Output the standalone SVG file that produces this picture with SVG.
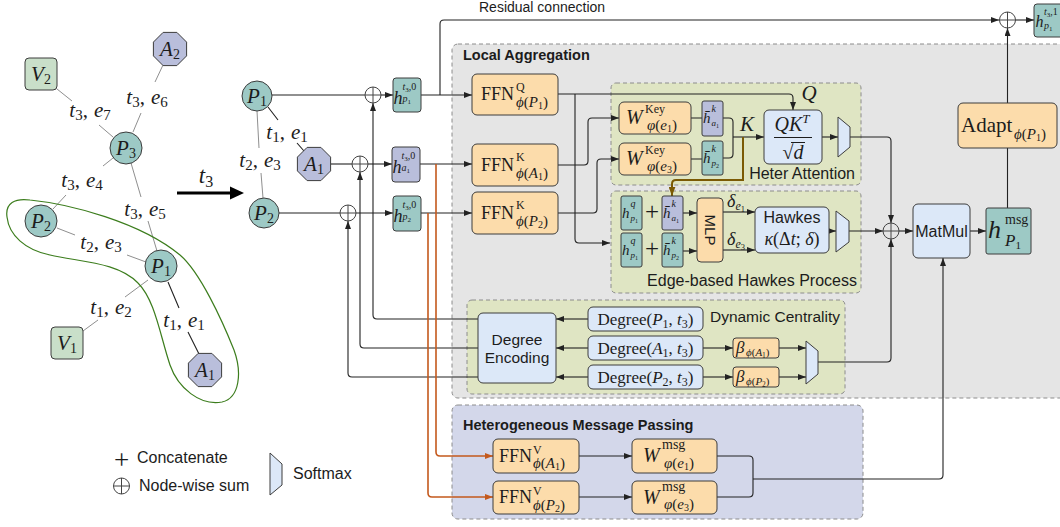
<svg xmlns="http://www.w3.org/2000/svg" width="1060" height="527" viewBox="0 0 1060 527">
<defs>
<style>
.m{font-family:"Liberation Serif","Times New Roman",serif;fill:#1c1c1c}
.i{font-style:italic}
.s{font-family:"Liberation Sans",Arial,sans-serif;fill:#1c1c1c}
.b{font-weight:bold}
.ln{fill:none;stroke:#222;stroke-width:1.1}
.la{fill:none;stroke:#222;stroke-width:1.1;marker-end:url(#ah)}
.gr{fill:none;stroke:#8f8f8f;stroke-width:1}
.or{fill:none;stroke:#c4591d;stroke-width:1.6;marker-end:url(#aho)}
.br{fill:none;stroke:#7b5a04;stroke-width:2;marker-end:url(#ahb)}
.box{stroke:#3c3c3c;stroke-width:1}
.teal{fill:#9dc9c5}
.lav{fill:#b9bedb}
.ora{fill:#fcdcab}
.blu{fill:#dce8f8}
.vgr{fill:#c9dfc9}
.pnl{stroke:#8c8c8c;stroke-width:1;stroke-dasharray:4 3}
.sm{fill:#dce8f8;stroke:#3c3c3c;stroke-width:1}
</style>
<marker id="ah" viewBox="0 0 8 6" refX="8" refY="3" markerWidth="8" markerHeight="6" markerUnits="userSpaceOnUse" orient="auto"><path d="M0,0L8,3L0,6z" fill="#222"/></marker>
<marker id="aho" viewBox="0 0 8 6" refX="8" refY="3" markerWidth="8" markerHeight="6" markerUnits="userSpaceOnUse" orient="auto"><path d="M0,0L8,3L0,6z" fill="#c4591d"/></marker>
<marker id="ahb" viewBox="0 0 8 6" refX="8" refY="3" markerWidth="9" markerHeight="7" markerUnits="userSpaceOnUse" orient="auto"><path d="M0,0L8,3L0,6z" fill="#7b5a04"/></marker>
<g id="sum"><circle r="8" fill="none" stroke="#444" stroke-width="1"/><path d="M-8,0H8M0,-8V8" stroke="#444" stroke-width="1"/></g>
<polygon id="oct" points="-6.9,-16.6 6.9,-16.6 16.6,-6.9 16.6,6.9 6.9,16.6 -6.9,16.6 -16.6,6.9 -16.6,-6.9"/>
</defs>

<rect width="1060" height="527" fill="#fff"/>

<!-- ===== temporal graph (left) ===== -->
<g id="graph-edges">
  <path class="gr" d="M57,89L72,101M99,125L113,137"/>
  <path class="gr" d="M163,65L155,82M141,113L133,132"/>
  <path class="gr" d="M113,158L103,166M66,195L53,209"/>
  <path class="gr" d="M131,163L141,197M148,221L157,251"/>
  <path class="gr" d="M57,228L75,235M127,255L146,262"/>
  <path class="gr" d="M83,331L98,320M125,297L148,280"/>
  <path class="ln" d="M168,282L179,308M188,332L199,354"/>
</g>
<path id="subgraph" d="M7,217C5,203 15,198 30,200C70,204 140,222 180,255C200,272 222,320 234,350C242,372 240,398 222,402C200,406 178,388 170,365C160,335 155,300 138,283C118,262 80,262 50,255C25,250 9,235 7,217Z" fill="none" stroke="#3c7d1d" stroke-width="1.2"/>

<g id="g-V2"><rect class="vgr box" x="25" y="58" width="32" height="32" rx="4"/><text class="m i" x="41" y="81" text-anchor="middle" font-size="21">V<tspan font-style="normal" font-size="14" dy="3">2</tspan></text></g>
<g id="g-A2"><use href="#oct" class="lav box" x="170" y="49"/><text class="m i" x="170" y="56" text-anchor="middle" font-size="21">A<tspan font-style="normal" font-size="14" dy="3">2</tspan></text></g>
<g id="g-P3"><circle class="teal box" cx="126" cy="148" r="16"/><text class="m i" x="126" y="155" text-anchor="middle" font-size="21">P<tspan font-style="normal" font-size="14" dy="3">3</tspan></text></g>
<g id="g-P2"><circle class="teal box" cx="41" cy="221" r="16"/><text class="m i" x="41" y="228" text-anchor="middle" font-size="21">P<tspan font-style="normal" font-size="14" dy="3">2</tspan></text></g>
<g id="g-P1"><circle class="teal box" cx="161" cy="266" r="16"/><text class="m i" x="161" y="273" text-anchor="middle" font-size="21">P<tspan font-style="normal" font-size="14" dy="3">1</tspan></text></g>
<g id="g-V1"><rect class="vgr box" x="51" y="327" width="32" height="32" rx="4"/><text class="m i" x="67" y="350" text-anchor="middle" font-size="21">V<tspan font-style="normal" font-size="14" dy="3">1</tspan></text></g>
<g id="g-A1"><use href="#oct" class="lav box" x="205" y="370"/><text class="m i" x="205" y="377" text-anchor="middle" font-size="21">A<tspan font-style="normal" font-size="14" dy="3">1</tspan></text></g>

<g id="edge-labels" class="m" font-size="21" text-anchor="middle">
  <text x="90" y="117"><tspan class="i">t</tspan><tspan font-size="15" dy="3">3</tspan><tspan dy="-3">,</tspan><tspan class="i" dx="6">e</tspan><tspan font-size="15" dy="3">7</tspan></text>
  <text x="147" y="104"><tspan class="i">t</tspan><tspan font-size="15" dy="3">3</tspan><tspan dy="-3">,</tspan><tspan class="i" dx="6">e</tspan><tspan font-size="15" dy="3">6</tspan></text>
  <text x="82" y="187"><tspan class="i">t</tspan><tspan font-size="15" dy="3">3</tspan><tspan dy="-3">,</tspan><tspan class="i" dx="6">e</tspan><tspan font-size="15" dy="3">4</tspan></text>
  <text x="145" y="216"><tspan class="i">t</tspan><tspan font-size="15" dy="3">3</tspan><tspan dy="-3">,</tspan><tspan class="i" dx="6">e</tspan><tspan font-size="15" dy="3">5</tspan></text>
  <text x="101" y="249"><tspan class="i">t</tspan><tspan font-size="15" dy="3">2</tspan><tspan dy="-3">,</tspan><tspan class="i" dx="6">e</tspan><tspan font-size="15" dy="3">3</tspan></text>
  <text x="111" y="314"><tspan class="i">t</tspan><tspan font-size="15" dy="3">1</tspan><tspan dy="-3">,</tspan><tspan class="i" dx="6">e</tspan><tspan font-size="15" dy="3">2</tspan></text>
  <text x="184" y="327"><tspan class="i">t</tspan><tspan font-size="15" dy="3">1</tspan><tspan dy="-3">,</tspan><tspan class="i" dx="6">e</tspan><tspan font-size="15" dy="3">1</tspan></text>
</g>

<!-- time step arrow -->
<g id="step-arrow">
  <path d="M177,193H232" stroke="#000" stroke-width="3"/>
  <polygon points="230,186.5 244,193 230,199.5" fill="#000"/>
  <text class="m i" x="206" y="183" text-anchor="middle" font-size="23">t<tspan font-style="normal" font-size="16" dy="4">3</tspan></text>
</g>

<!-- ===== sampled subgraph at t3 ===== -->
<g id="sub-edges">
  <path class="gr" d="M257,111L259,148M261,173L263,198"/>
  <path class="ln" d="M268,107L278,120M297,143L304,151"/>
</g>
<g id="s-P1"><circle class="teal box" cx="257" cy="96" r="15"/><text class="m i" x="257" y="103" text-anchor="middle" font-size="21">P<tspan font-style="normal" font-size="14" dy="3">1</tspan></text></g>
<g id="s-A1"><use href="#oct" class="lav box" x="314" y="164"/><text class="m i" x="314" y="171" text-anchor="middle" font-size="21">A<tspan font-style="normal" font-size="14" dy="3">1</tspan></text></g>
<g id="s-P2"><circle class="teal box" cx="264" cy="213" r="15"/><text class="m i" x="264" y="220" text-anchor="middle" font-size="21">P<tspan font-style="normal" font-size="14" dy="3">2</tspan></text></g>
<g class="m" font-size="21" text-anchor="middle">
  <text x="287" y="139"><tspan class="i">t</tspan><tspan font-size="15" dy="3">1</tspan><tspan dy="-3">,</tspan><tspan class="i" dx="6">e</tspan><tspan font-size="15" dy="3">1</tspan></text>
  <text x="260" y="167"><tspan class="i">t</tspan><tspan font-size="15" dy="3">2</tspan><tspan dy="-3">,</tspan><tspan class="i" dx="6">e</tspan><tspan font-size="15" dy="3">3</tspan></text>
</g>

<!-- ===== panels ===== -->
<g id="panel-local">
  <rect class="pnl" x="452" y="44" width="620" height="354" rx="6" fill="#e5e5e5"/>
  <text class="s b" x="463" y="60" font-size="14.5">Local Aggregation</text>
</g>
<g id="panel-attention">
  <rect class="pnl" x="611" y="83" width="250" height="102" rx="5" fill="#dfe5c3"/>
  <text class="s" x="855" y="179" text-anchor="end" font-size="16">Heter Attention</text>
</g>
<g id="panel-hawkes">
  <rect class="pnl" x="611" y="191" width="250" height="102" rx="5" fill="#dfe5c3"/>
  <text class="s" x="857" y="286" text-anchor="end" font-size="16">Edge-based Hawkes Process</text>
</g>
<g id="panel-centrality">
  <rect class="pnl" x="467" y="300" width="378" height="94" rx="5" fill="#dfe5c3"/>
  <text class="s" x="840" y="322" text-anchor="end" font-size="15.5">Dynamic Centrality</text>
</g>
<g id="panel-message">
  <rect class="pnl" x="452" y="405" width="411" height="114" rx="6" fill="#d3d7ea"/>
  <text class="s b" x="463" y="430" font-size="14.5">Heterogeneous Message Passing</text>
</g>

<!-- ===== connectors ===== -->
<g id="connectors">
  <path class="ln" d="M272,95H365"/>
  <path class="la" d="M381,95H393"/>
  <path class="ln" d="M331,164H352"/>
  <path class="la" d="M368,164H392"/>
  <path class="ln" d="M279,213H340"/>
  <path class="la" d="M356,213H393"/>
  <path class="la" d="M421,95H472"/>
  <path class="la" d="M420,164H472"/>
  <path class="la" d="M421,213H472"/>
  <!-- residual -->
  <path class="la" d="M440,95V24Q440,20 444,20H999"/>
  <path class="la" d="M1015.5,20H1034"/>
  <path class="la" d="M1007.5,103V28"/>
  <path class="ln" d="M1007.5,208V148"/>
  <!-- degree feedback -->
  <path class="la" d="M478,319H377Q373,319 373,315V103"/>
  <path class="la" d="M478,348H364Q360,348 360,344V172"/>
  <path class="la" d="M478,377H352Q348,377 348,373V221"/>
  <!-- value paths -->
  <path class="or" d="M436,164V452Q436,456 440,456H493"/>
  <path class="or" d="M428,213V493Q428,497 432,497H493"/>
  <!-- query / key -->
  <path class="la" d="M558,94H789Q793,94 793,98V110"/>
  <path class="la" d="M575,94V239Q575,243 579,243H610"/>
  <path class="la" d="M558,165H584Q588,165 588,161V122Q588,118 592,118H619"/>
  <path class="la" d="M558,213H593Q597,213 597,209V163Q597,159 601,159H619"/>
  <path class="ln" d="M691,118H702M691,159H702"/>
  <path class="ln" d="M723,118H729Q733,118 733,122V154Q733,158 729,158H723"/>
  <path class="la" d="M733,137H764"/>
  <path class="br" d="M743,137V180H676Q672,180 672,184V196"/>
  <path class="la" d="M822,137H838"/>
  <path class="la" d="M850,137H887Q891,137 891,141V223"/>
  <!-- hawkes -->
  <path class="la" d="M683,213H697"/>
  <path class="la" d="M683,251H697"/>
  <path class="la" d="M723,212H755"/>
  <path class="la" d="M723,250H755"/>
  <path class="la" d="M829,231H836"/>
  <path class="la" d="M849,231H883"/>
  <path class="la" d="M899,231H913"/>
  <path class="la" d="M970,231H986"/>
  <!-- centrality -->
  <path class="la" d="M588,319H556"/>
  <path class="la" d="M588,348H556"/>
  <path class="la" d="M588,377H556"/>
  <path class="la" d="M703,348H733"/>
  <path class="la" d="M703,377H733"/>
  <path class="la" d="M779,348H806"/>
  <path class="la" d="M779,377H806"/>
  <path class="la" d="M818,362H887Q891,362 891,358V239"/>
  <!-- message passing -->
  <path class="la" d="M579,456H632"/>
  <path class="la" d="M579,497H632"/>
  <path class="ln" d="M717,456H749Q753,456 753,460V493Q753,497 749,497H717"/>
  <path class="la" d="M753,479H939Q943,479 943,475V258"/>
</g>

<!-- sums -->
<g id="sums">
  <use href="#sum" x="373" y="95"/>
  <use href="#sum" x="360" y="164"/>
  <use href="#sum" x="348" y="213"/>
  <use href="#sum" x="891" y="231"/>
  <use href="#sum" x="1007.5" y="20"/>
</g>

<!-- initial embeddings -->
<g id="h-p1"><rect class="teal box" x="393" y="78" width="28" height="34" rx="3"/>
  <text class="m"><tspan class="i" x="393.5" y="104" font-size="18">h</tspan><tspan x="402.5" y="90" font-size="10"><tspan class="i">t</tspan><tspan font-size="7" dy="1.5">3</tspan><tspan dy="-1.5">,0</tspan></tspan><tspan x="402.5" y="102" font-size="10"><tspan class="i">p</tspan><tspan font-size="7" dy="1.5">1</tspan></tspan></text></g>
<g id="h-a1"><rect class="lav box" x="392" y="147" width="28" height="35" rx="3"/>
  <text class="m"><tspan class="i" x="392.5" y="173" font-size="18">h</tspan><tspan x="401.5" y="159" font-size="10"><tspan class="i">t</tspan><tspan font-size="7" dy="1.5">3</tspan><tspan dy="-1.5">,0</tspan></tspan><tspan x="401.5" y="171" font-size="10"><tspan class="i">a</tspan><tspan font-size="7" dy="1.5">1</tspan></tspan></text></g>
<g id="h-p2"><rect class="teal box" x="393" y="196" width="28" height="35" rx="3"/>
  <text class="m"><tspan class="i" x="393.5" y="222" font-size="18">h</tspan><tspan x="402.5" y="208" font-size="10"><tspan class="i">t</tspan><tspan font-size="7" dy="1.5">3</tspan><tspan dy="-1.5">,0</tspan></tspan><tspan x="402.5" y="220" font-size="10"><tspan class="i">p</tspan><tspan font-size="7" dy="1.5">2</tspan></tspan></text></g>

<!-- FFN projections -->
<g id="ffn-q"><rect class="ora box" x="472" y="74" width="86" height="41" rx="5"/>
  <text class="m"><tspan x="481" y="100" font-size="18">FFN</tspan><tspan x="516" y="90.5" font-size="12">Q</tspan><tspan x="516" y="107" font-size="15"><tspan class="i">ϕ</tspan>(<tspan class="i">P</tspan><tspan font-size="10" dy="2">1</tspan><tspan dy="-2">)</tspan></tspan></text></g>
<g id="ffn-k-a1"><rect class="ora box" x="472" y="144" width="86" height="42" rx="5"/>
  <text class="m"><tspan x="481" y="170.5" font-size="18">FFN</tspan><tspan x="516" y="161" font-size="12">K</tspan><tspan x="516" y="177.5" font-size="15"><tspan class="i">ϕ</tspan>(<tspan class="i">A</tspan><tspan font-size="10" dy="2">1</tspan><tspan dy="-2">)</tspan></tspan></text></g>
<g id="ffn-k-p2"><rect class="ora box" x="472" y="192" width="86" height="42" rx="5"/>
  <text class="m"><tspan x="481" y="218.5" font-size="18">FFN</tspan><tspan x="516" y="209" font-size="12">K</tspan><tspan x="516" y="225.5" font-size="15"><tspan class="i">ϕ</tspan>(<tspan class="i">P</tspan><tspan font-size="10" dy="2">2</tspan><tspan dy="-2">)</tspan></tspan></text></g>

<!-- heter attention -->
<g id="wkey-e1"><rect class="ora box" x="619" y="102" width="72" height="32" rx="5"/>
  <text class="m"><tspan class="i" x="626" y="124" font-size="20">W</tspan><tspan x="645" y="113" font-size="12">Key</tspan><tspan x="647" y="129.5" font-size="15"><tspan class="i">φ</tspan>(<tspan class="i">e</tspan><tspan font-size="10" dy="2">1</tspan><tspan dy="-2">)</tspan></tspan></text></g>
<g id="wkey-e3"><rect class="ora box" x="619" y="143" width="72" height="32" rx="5"/>
  <text class="m"><tspan class="i" x="626" y="165" font-size="20">W</tspan><tspan x="645" y="154" font-size="12">Key</tspan><tspan x="647" y="170.5" font-size="15"><tspan class="i">φ</tspan>(<tspan class="i">e</tspan><tspan font-size="10" dy="2">3</tspan><tspan dy="-2">)</tspan></tspan></text></g>
<g id="hk-a1"><rect class="lav box" x="702" y="101" width="21" height="35" rx="2"/>
  <text class="m"><tspan class="i" x="703" y="123" font-size="15">h̄</tspan><tspan class="i" x="711.5" y="112" font-size="10">k</tspan><tspan x="711.5" y="126" font-size="9"><tspan class="i">a</tspan><tspan font-size="6" dy="1.5">1</tspan></tspan></text></g>
<g id="hk-p2"><rect class="teal box" x="702" y="141" width="21" height="34" rx="2"/>
  <text class="m"><tspan class="i" x="703" y="163" font-size="15">h̄</tspan><tspan class="i" x="711.5" y="152" font-size="10">k</tspan><tspan x="711.5" y="166" font-size="9"><tspan class="i">p</tspan><tspan font-size="6" dy="1.5">2</tspan></tspan></text></g>
<text class="m i" x="747" y="131" text-anchor="middle" font-size="21">K</text>
<text class="m i" x="809" y="100" text-anchor="middle" font-size="21">Q</text>
<g id="qk"><rect class="blu box" x="764" y="110" width="58" height="54" rx="5"/>
  <text class="m" x="792" y="131" text-anchor="middle" font-size="20"><tspan class="i">QK</tspan><tspan class="i" font-size="13" dy="-8">T</tspan></text>
  <path d="M774,137.5H812" stroke="#1c1c1c" stroke-width="1"/>
  <text class="m" x="793" y="159" text-anchor="middle" font-size="20">√<tspan class="i">d</tspan></text>
  <path d="M791,142.5H805" stroke="#1c1c1c" stroke-width="1"/>
</g>
<polygon id="softmax-att" class="sm" points="838,117 850,127 850,147 838,157"/>

<!-- hawkes process -->
<g id="hq-1"><rect class="teal box" x="621" y="196" width="21" height="34" rx="2"/>
  <text class="m"><tspan class="i" x="622" y="218" font-size="15">h</tspan><tspan class="i" x="630.5" y="207" font-size="10">q</tspan><tspan x="630.5" y="221" font-size="9"><tspan class="i">p</tspan><tspan font-size="6" dy="1.5">1</tspan></tspan></text></g>
<g id="hq-2"><rect class="teal box" x="621" y="233" width="21" height="34" rx="2"/>
  <text class="m"><tspan class="i" x="622" y="255" font-size="15">h</tspan><tspan class="i" x="630.5" y="244" font-size="10">q</tspan><tspan x="630.5" y="258" font-size="9"><tspan class="i">p</tspan><tspan font-size="6" dy="1.5">1</tspan></tspan></text></g>
<text class="m" x="652" y="220" text-anchor="middle" font-size="25">+</text>
<text class="m" x="652" y="257" text-anchor="middle" font-size="25">+</text>
<g id="hkh-a1"><rect class="lav box" x="662" y="196" width="21" height="34" rx="2"/>
  <text class="m"><tspan class="i" x="663" y="218" font-size="15">h̄</tspan><tspan class="i" x="671.5" y="207" font-size="10">k</tspan><tspan x="671.5" y="221" font-size="9"><tspan class="i">a</tspan><tspan font-size="6" dy="1.5">1</tspan></tspan></text></g>
<g id="hkh-p2"><rect class="teal box" x="662" y="233" width="21" height="34" rx="2"/>
  <text class="m"><tspan class="i" x="663" y="255" font-size="15">h̄</tspan><tspan class="i" x="671.5" y="244" font-size="10">k</tspan><tspan x="671.5" y="258" font-size="9"><tspan class="i">p</tspan><tspan font-size="6" dy="1.5">2</tspan></tspan></text></g>
<g id="mlp"><rect class="ora box" x="697" y="198" width="26" height="64" rx="4"/>
  <text class="s" transform="translate(710,230) rotate(90)" x="0" y="5.5" text-anchor="middle" font-size="15">MLP</text></g>
<text class="m" x="727" y="207" font-size="18"><tspan class="i">δ</tspan><tspan font-size="12" dy="3"><tspan class="i">e</tspan><tspan font-size="8.5" dy="1.5">1</tspan></tspan></text>
<text class="m" x="727" y="245" font-size="18"><tspan class="i">δ</tspan><tspan font-size="12" dy="3"><tspan class="i">e</tspan><tspan font-size="8.5" dy="1.5">3</tspan></tspan></text>
<g id="hawkes"><rect class="blu box" x="755" y="207" width="74" height="46" rx="5"/>
  <text class="s" x="792" y="223" text-anchor="middle" font-size="16">Hawkes</text>
  <text class="m" x="792" y="245" text-anchor="middle" font-size="18"><tspan class="i">κ</tspan>(Δ<tspan class="i">t</tspan>; <tspan class="i">δ</tspan>)</text></g>
<polygon id="softmax-hawkes" class="sm" points="836,211 849,221 849,242 836,252"/>

<!-- aggregation output -->
<g id="matmul"><rect class="blu box" x="913" y="204" width="57" height="54" rx="5"/>
  <text class="s" x="941.5" y="237" text-anchor="middle" font-size="16">MatMul</text></g>
<g id="h-msg"><rect class="teal box" x="986" y="208" width="45" height="46" rx="2"/>
  <text class="m"><tspan class="i" x="988" y="238" font-size="26">h</tspan><tspan x="1005" y="224" font-size="14">msg</tspan><tspan x="1005" y="246" font-size="17"><tspan class="i">P</tspan><tspan font-size="11" dy="2.5">1</tspan></tspan></text></g>
<g id="adapt"><rect class="ora box" x="958" y="103" width="99" height="45" rx="5"/>
  <text class="m"><tspan x="961" y="132" font-size="21">Adapt</tspan><tspan x="1014" y="139" font-size="15"><tspan class="i">ϕ</tspan>(<tspan class="i">P</tspan><tspan font-size="10" dy="2">1</tspan><tspan dy="-2">)</tspan></tspan></text></g>
<g id="h-out"><rect class="teal box" x="1034" y="4" width="34" height="33" rx="3"/>
  <text class="m"><tspan class="i" x="1035.5" y="27" font-size="16">h</tspan><tspan x="1044" y="15" font-size="10"><tspan class="i">t</tspan><tspan font-size="7" dy="1.5">3</tspan><tspan dy="-1.5">,1</tspan></tspan><tspan x="1044" y="29" font-size="10"><tspan class="i">p</tspan><tspan font-size="7" dy="1.5">1</tspan></tspan></text></g>
<text class="s" x="479" y="12" font-size="14">Residual connection</text>

<!-- dynamic centrality -->
<g id="deg-enc"><rect class="blu box" x="478" y="313" width="78" height="70" rx="5"/>
  <text class="s" x="517" y="345" text-anchor="middle" font-size="15.5">Degree</text>
  <text class="s" x="517" y="363" text-anchor="middle" font-size="15.5">Encoding</text></g>
<g id="deg-p1"><rect class="blu box" x="588" y="307" width="115" height="24" rx="5"/>
  <text class="m" x="645.5" y="325" text-anchor="middle" font-size="17">Degree(<tspan class="i">P</tspan><tspan font-size="12" dy="3">1</tspan><tspan dy="-3">, </tspan><tspan class="i">t</tspan><tspan font-size="12" dy="3">3</tspan><tspan dy="-3">)</tspan></text></g>
<g id="deg-a1"><rect class="blu box" x="588" y="336" width="115" height="24" rx="5"/>
  <text class="m" x="645.5" y="354" text-anchor="middle" font-size="17">Degree(<tspan class="i">A</tspan><tspan font-size="12" dy="3">1</tspan><tspan dy="-3">, </tspan><tspan class="i">t</tspan><tspan font-size="12" dy="3">3</tspan><tspan dy="-3">)</tspan></text></g>
<g id="deg-p2"><rect class="blu box" x="588" y="365" width="115" height="24" rx="5"/>
  <text class="m" x="645.5" y="383" text-anchor="middle" font-size="17">Degree(<tspan class="i">P</tspan><tspan font-size="12" dy="3">2</tspan><tspan dy="-3">, </tspan><tspan class="i">t</tspan><tspan font-size="12" dy="3">3</tspan><tspan dy="-3">)</tspan></text></g>
<g id="beta-a1"><rect class="ora box" x="733" y="338" width="46" height="20" rx="3"/>
  <text class="m"><tspan class="i" x="736" y="353" font-size="17">β</tspan><tspan x="746" y="356" font-size="11"><tspan class="i">ϕ</tspan>(<tspan class="i">A</tspan><tspan font-size="7.5" dy="1.5">1</tspan><tspan dy="-1.5">)</tspan></tspan></text></g>
<g id="beta-p2"><rect class="ora box" x="733" y="367" width="46" height="20" rx="3"/>
  <text class="m"><tspan class="i" x="736" y="382" font-size="17">β</tspan><tspan x="746" y="385" font-size="11"><tspan class="i">ϕ</tspan>(<tspan class="i">P</tspan><tspan font-size="7.5" dy="1.5">2</tspan><tspan dy="-1.5">)</tspan></tspan></text></g>
<polygon id="softmax-deg" class="sm" points="806,341 818,351 818,374 806,384"/>

<!-- heterogeneous message passing -->
<g id="ffn-v-a1"><rect class="ora box" x="493" y="439" width="86" height="34" rx="5"/>
  <text class="m"><tspan x="499" y="461.5" font-size="18">FFN</tspan><tspan x="533" y="453.5" font-size="12">V</tspan><tspan x="533" y="468" font-size="15"><tspan class="i">ϕ</tspan>(<tspan class="i">A</tspan><tspan font-size="10" dy="2">1</tspan><tspan dy="-2">)</tspan></tspan></text></g>
<g id="ffn-v-p2"><rect class="ora box" x="493" y="481" width="86" height="33" rx="5"/>
  <text class="m"><tspan x="499" y="503" font-size="18">FFN</tspan><tspan x="533" y="495" font-size="12">V</tspan><tspan x="533" y="509.5" font-size="15"><tspan class="i">ϕ</tspan>(<tspan class="i">P</tspan><tspan font-size="10" dy="2">2</tspan><tspan dy="-2">)</tspan></tspan></text></g>
<g id="wmsg-e1"><rect class="ora box" x="632" y="439" width="85" height="34" rx="5"/>
  <text class="m"><tspan class="i" x="643" y="462" font-size="20">W</tspan><tspan x="662" y="449" font-size="14">msg</tspan><tspan x="664" y="467.5" font-size="15"><tspan class="i">φ</tspan>(<tspan class="i">e</tspan><tspan font-size="10" dy="2">1</tspan><tspan dy="-2">)</tspan></tspan></text></g>
<g id="wmsg-e3"><rect class="ora box" x="632" y="481" width="85" height="33" rx="5"/>
  <text class="m"><tspan class="i" x="643" y="503.5" font-size="20">W</tspan><tspan x="662" y="490.5" font-size="14">msg</tspan><tspan x="664" y="509" font-size="15"><tspan class="i">φ</tspan>(<tspan class="i">e</tspan><tspan font-size="10" dy="2">3</tspan><tspan dy="-2">)</tspan></tspan></text></g>

<!-- legend -->
<g id="legend">
  <text class="m" x="121.5" y="468.5" text-anchor="middle" font-size="27">+</text>
  <text class="s" x="137" y="463" font-size="16">Concatenate</text>
  <use href="#sum" x="121.5" y="486"/>
  <text class="s" x="139" y="491" font-size="16">Node-wise sum</text>
  <polygon class="sm" points="270,453 282,464 282,485 270,495"/>
  <text class="s" x="293" y="479" font-size="16">Softmax</text>
</g>
</svg>
